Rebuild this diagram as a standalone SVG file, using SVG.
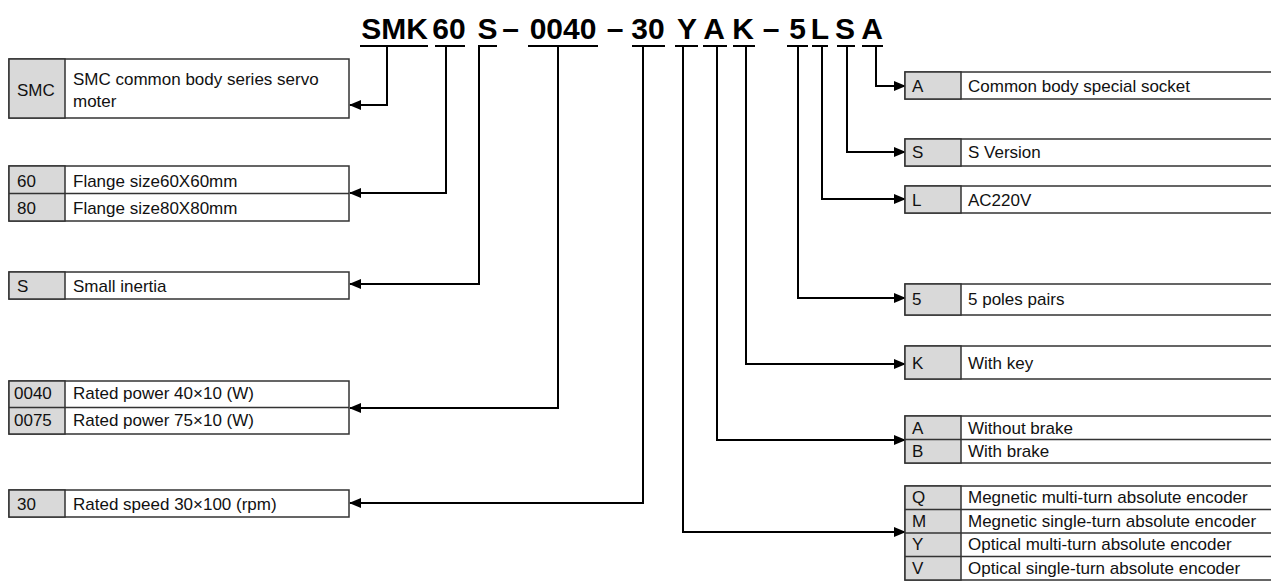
<svg xmlns="http://www.w3.org/2000/svg" width="1271" height="583" viewBox="0 0 1271 583">
<defs>
<style>
.box{fill:#fff;stroke:#333;stroke-width:1.5}
.key{fill:#d9d9d9;stroke:#333;stroke-width:1.5}
.div{stroke:#333;stroke-width:1.5}
.t{font-family:"Liberation Sans",Arial,sans-serif;font-size:17px;fill:#111}
.title{font-family:"Liberation Sans",Arial,sans-serif;font-weight:bold;font-size:30px;text-anchor:middle;fill:#000}
.ul{stroke:#000;stroke-width:2}
.conn{fill:none;stroke:#000;stroke-width:2}
</style>
<marker id="arr" markerUnits="userSpaceOnUse" viewBox="0 0 12 10" refX="11" refY="5" markerWidth="12" markerHeight="10" orient="auto">
<path d="M0,0 L12,5 L0,10 z" fill="#000"/>
</marker>
</defs>
<rect width="1271" height="583" fill="#fff"/>

<g id="title">
<text class="title" x="394.5" y="39">SMK</text>
<text class="title" x="449" y="39">60</text>
<text class="title" x="487.5" y="39">S</text>
<text class="title" x="510.5" y="39">–</text>
<text class="title" x="563" y="39">0040</text>
<text class="title" x="615" y="39">–</text>
<text class="title" x="648" y="39">30</text>
<text class="title" x="687" y="39">Y</text>
<text class="title" x="714" y="39">A</text>
<text class="title" x="743" y="39">K</text>
<text class="title" x="771" y="39">–</text>
<text class="title" x="797.5" y="39">5</text>
<text class="title" x="820" y="39">L</text>
<text class="title" x="845" y="39">S</text>
<text class="title" x="872" y="39">A</text>
<line class="ul" x1="360" y1="46" x2="428" y2="46"/>
<line class="ul" x1="435" y1="46" x2="465" y2="46"/>
<line class="ul" x1="478" y1="46" x2="497" y2="46"/>
<line class="ul" x1="528" y1="46" x2="598" y2="46"/>
<line class="ul" x1="632" y1="46" x2="665" y2="46"/>
<line class="ul" x1="675" y1="46" x2="698" y2="46"/>
<line class="ul" x1="703" y1="46" x2="727" y2="46"/>
<line class="ul" x1="733" y1="46" x2="755" y2="46"/>
<line class="ul" x1="787" y1="46" x2="808" y2="46"/>
<line class="ul" x1="812" y1="46" x2="828" y2="46"/>
<line class="ul" x1="837" y1="46" x2="855" y2="46"/>
<line class="ul" x1="862" y1="46" x2="883" y2="46"/>
</g>

<g id="connectors">
<path class="conn" d="M387,46 V105 H350" marker-end="url(#arr)"/>
<path class="conn" d="M446,46 V193 H350" marker-end="url(#arr)"/>
<path class="conn" d="M479,46 V284 H350" marker-end="url(#arr)"/>
<path class="conn" d="M558,46 V408 H350" marker-end="url(#arr)"/>
<path class="conn" d="M643,46 V503 H350" marker-end="url(#arr)"/>
<path class="conn" d="M683,46 V532 H905" marker-end="url(#arr)"/>
<path class="conn" d="M717,46 V440 H905" marker-end="url(#arr)"/>
<path class="conn" d="M746,46 V364 H905" marker-end="url(#arr)"/>
<path class="conn" d="M798,46 V298 H905" marker-end="url(#arr)"/>
<path class="conn" d="M822,46 V199 H905" marker-end="url(#arr)"/>
<path class="conn" d="M847,46 V152 H905" marker-end="url(#arr)"/>
<path class="conn" d="M876,46 V86 H905" marker-end="url(#arr)"/>
</g>

<g id="node-smc">
<rect class="box" x="9" y="59" width="340" height="59"/>
<rect class="key" x="9" y="59" width="56" height="59"/>
<text class="t" x="17" y="96">SMC</text>
<text class="t" x="73" y="85">SMC common body series servo</text>
<text class="t" x="73" y="107">moter</text>
</g>

<g id="node-flange">
<rect class="box" x="9" y="166" width="340" height="55"/>
<rect class="key" x="9" y="166" width="56" height="55"/>
<line class="div" x1="9" y1="193.5" x2="349" y2="193.5"/>
<text class="t" x="17" y="187">60</text>
<text class="t" x="73" y="187">Flange size60X60mm</text>
<text class="t" x="17" y="214">80</text>
<text class="t" x="73" y="214">Flange size80X80mm</text>
</g>

<g id="node-inertia">
<rect class="box" x="9" y="272" width="340" height="27"/>
<rect class="key" x="9" y="272" width="56" height="27"/>
<text class="t" x="17" y="292">S</text>
<text class="t" x="73" y="292">Small inertia</text>
</g>

<g id="node-power">
<rect class="box" x="9" y="381" width="340" height="53"/>
<rect class="key" x="9" y="381" width="56" height="53"/>
<line class="div" x1="9" y1="407.5" x2="349" y2="407.5"/>
<text class="t" x="14" y="399">0040</text>
<text class="t" x="73" y="399">Rated power 40×10 (W)</text>
<text class="t" x="14" y="426">0075</text>
<text class="t" x="73" y="426">Rated power 75×10 (W)</text>
</g>

<g id="node-speed">
<rect class="box" x="9" y="490" width="340" height="27"/>
<rect class="key" x="9" y="490" width="56" height="27"/>
<text class="t" x="17" y="510">30</text>
<text class="t" x="73" y="510">Rated speed 30×100 (rpm)</text>
</g>

<g id="node-socket">
<rect class="box" x="905" y="72" width="370" height="27"/>
<rect class="key" x="905" y="72" width="56" height="27"/>
<text class="t" x="912" y="92">A</text>
<text class="t" x="968" y="92">Common body special socket</text>
</g>

<g id="node-version">
<rect class="box" x="905" y="139" width="370" height="27"/>
<rect class="key" x="905" y="139" width="56" height="27"/>
<text class="t" x="912" y="158">S</text>
<text class="t" x="968" y="158">S Version</text>
</g>

<g id="node-voltage">
<rect class="box" x="905" y="186" width="370" height="27"/>
<rect class="key" x="905" y="186" width="56" height="27"/>
<text class="t" x="912" y="206">L</text>
<text class="t" x="968" y="206">AC220V</text>
</g>

<g id="node-poles">
<rect class="box" x="905" y="284" width="370" height="31"/>
<rect class="key" x="905" y="284" width="56" height="31"/>
<text class="t" x="912" y="305">5</text>
<text class="t" x="968" y="305">5 poles pairs</text>
</g>

<g id="node-key">
<rect class="box" x="905" y="346" width="370" height="33"/>
<rect class="key" x="905" y="346" width="56" height="33"/>
<text class="t" x="912" y="369">K</text>
<text class="t" x="968" y="369">With key</text>
</g>

<g id="node-brake">
<rect class="box" x="905" y="416" width="370" height="47"/>
<rect class="key" x="905" y="416" width="56" height="47"/>
<line class="div" x1="905" y1="439.5" x2="1275" y2="439.5"/>
<text class="t" x="912" y="434">A</text>
<text class="t" x="968" y="434">Without brake</text>
<text class="t" x="912" y="457">B</text>
<text class="t" x="968" y="457">With brake</text>
</g>

<g id="node-encoder">
<rect class="box" x="905" y="486" width="370" height="94"/>
<rect class="key" x="905" y="486" width="56" height="94"/>
<line class="div" x1="905" y1="509.5" x2="1275" y2="509.5"/>
<line class="div" x1="905" y1="533" x2="1275" y2="533"/>
<line class="div" x1="905" y1="556.5" x2="1275" y2="556.5"/>
<text class="t" x="912" y="503">Q</text>
<text class="t" x="968" y="503">Megnetic multi-turn absolute encoder</text>
<text class="t" x="912" y="527">M</text>
<text class="t" x="968" y="527">Megnetic single-turn absolute encoder</text>
<text class="t" x="912" y="550">Y</text>
<text class="t" x="968" y="550">Optical multi-turn absolute encoder</text>
<text class="t" x="912" y="574">V</text>
<text class="t" x="968" y="574">Optical single-turn absolute encoder</text>
</g>
</svg>
